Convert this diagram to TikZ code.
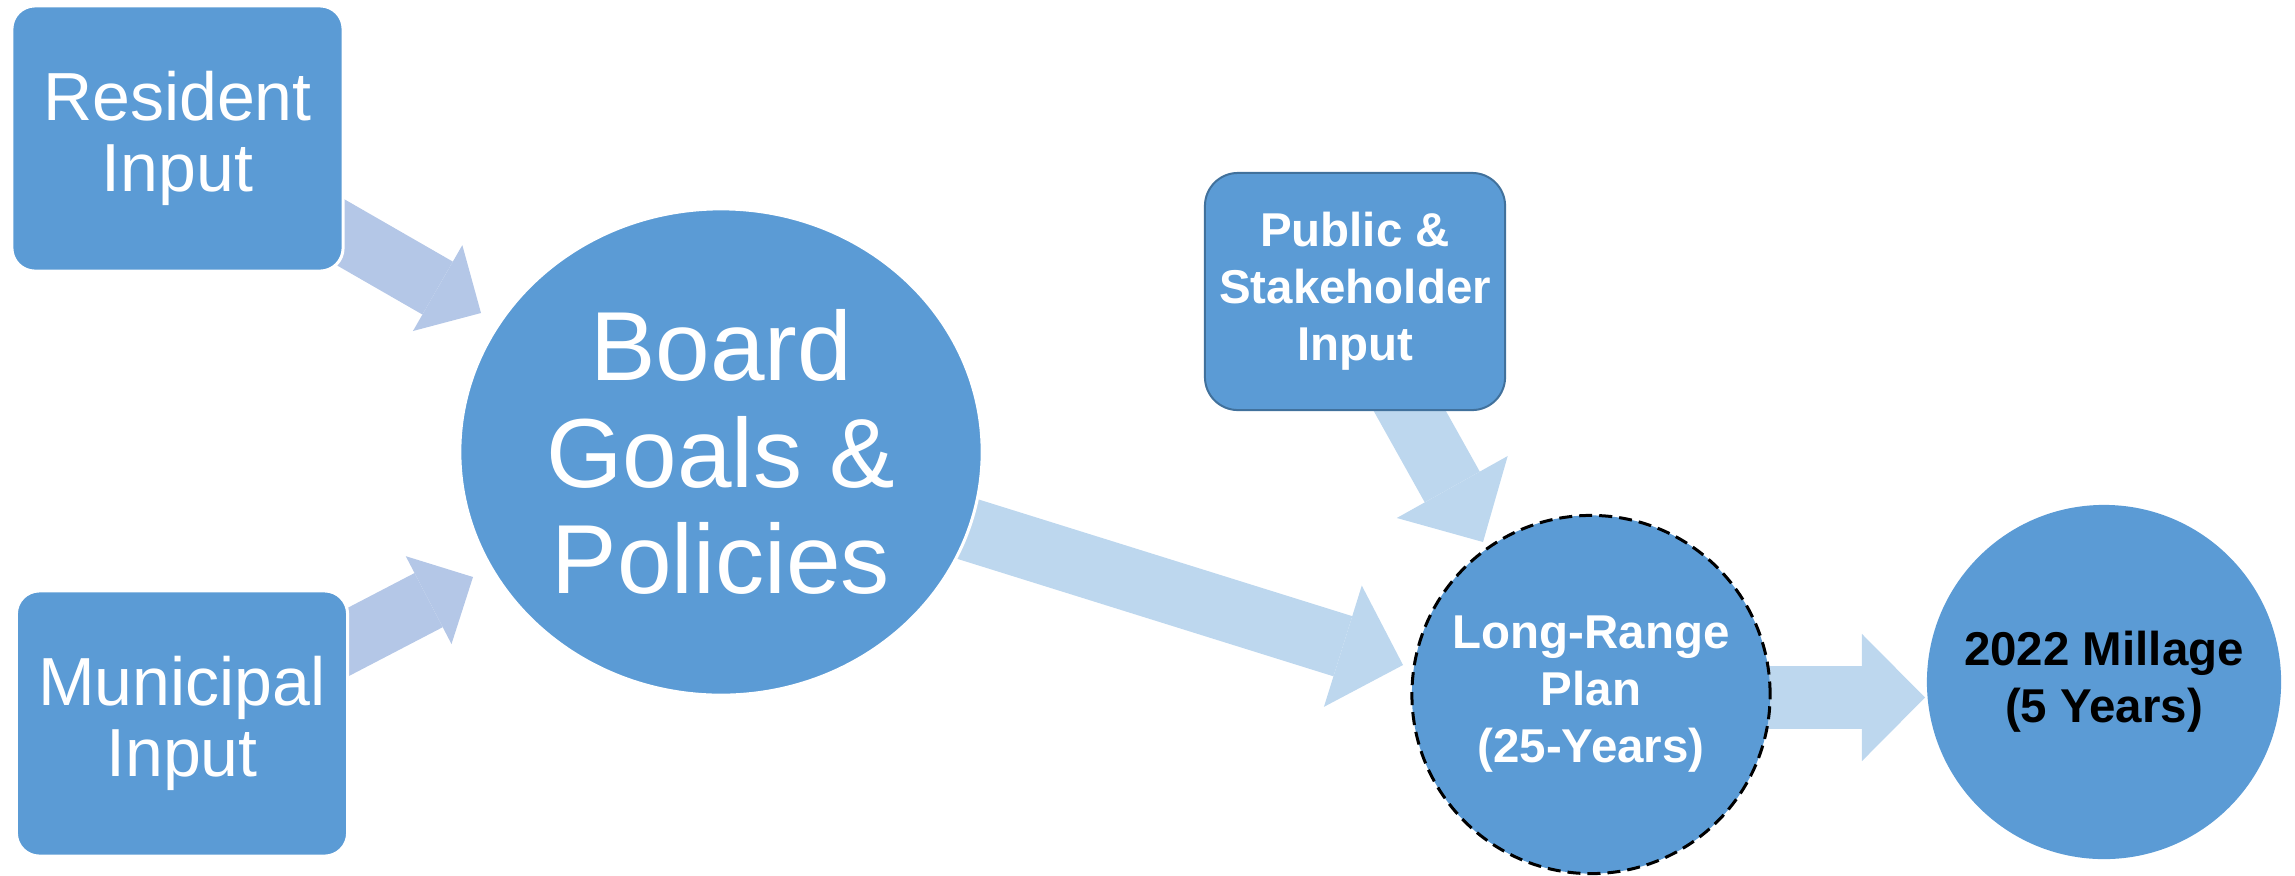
\documentclass[tikz,border=0pt]{standalone}
\usepackage{fontspec}
\setmainfont{Liberation Sans}
\usetikzlibrary{arrows.meta,shapes.geometric}
\pgfdeclarelayer{bg}
\pgfsetlayers{bg,main}
\definecolor{boxblue}{HTML}{5B9BD5}
\definecolor{arrL}{HTML}{B4C7E7}
\definecolor{arrR}{HTML}{BDD7EE}
\definecolor{pubborder}{HTML}{41719C}
\tikzset{
  inbox/.style={rectangle, rounded corners=0.23cm, fill=boxblue, draw=white,
    line width=0.03cm, minimum width=3.31cm, minimum height=2.65cm, inner sep=0pt,
    align=center, text=white, font=\fontsize{19.35}{20.2}\selectfont},
  pubbox/.style={rectangle, rounded corners=0.33cm, fill=boxblue, draw=pubborder,
    line width=0.02cm, minimum width=3.0cm, minimum height=2.37cm, inner sep=0pt,
    align=center, text=white, font=\bfseries\fontsize{13.5}{16.2}\selectfont},
  bigell/.style={ellipse, fill=boxblue, draw=white, line width=0.03cm,
    minimum width=5.22cm, minimum height=4.86cm, inner sep=0pt, align=center,
    text=white, font=\fontsize{27.9}{30.2}\selectfont},
  lrcirc/.style={circle, fill=boxblue, draw=black, dash pattern=on 0.13cm off 0.07cm,
    line width=0.03cm, minimum size=3.58cm, inner sep=0pt, align=center,
    text=white, font=\bfseries\fontsize{13.5}{16.2}\selectfont},
  milcirc/.style={circle, fill=boxblue, minimum size=3.54cm, inner sep=0pt,
    align=center, text=black, font=\bfseries\fontsize{13.5}{16.2}\selectfont},
  fatL/.style={draw=arrL, line width=0.61cm,
    -{Triangle[width=0.99cm,length=0.50cm,line width=0pt]}},
  fatR/.style={draw=arrR, line width=0.63cm,
    -{Triangle[width=1.27cm,length=0.63cm,line width=0pt]}}
}
\begin{document}
\begin{tikzpicture}[x=0.01cm,y=-0.01cm]
\useasboundingbox (0,0) rectangle (2295,875);
\node[inbox] (res) at (177.5,138.5) {Resident\\Input};
\node[inbox] (mun) at (182,723.5) {Municipal\\Input};
\node[bigell] (board) at (721,452) {Board\\Goals \&\\Policies};
\node[pubbox] (pub) at (1355,291.5) {Public \&\\Stakeholder\\Input};
\node[lrcirc] (lr) at (1591,694.5) {Long-Range\\Plan\\(25-Years)};
\node[milcirc] (mil) at (2104,682) {2022 Millage\\(5 Years)};
\coordinate (t1) at (481,313);
\coordinate (t2) at (473,577);
\coordinate (t3) at (1403,665);
\coordinate (t4) at (1483,542);
\coordinate (t5) at (1925,697.5);
\begin{pgfonlayer}{bg}
\draw[fatL] (res.center) -- (t1);
\draw[fatL] ([yshift=-0.05cm]mun.center) -- (t2);
\draw[fatR] (board.center) -- (t3);
\draw[fatR] ([xshift=-0.12cm]pub.center) -- (t4);
\draw[fatR] (lr.center |- t5) -- (t5);
\end{pgfonlayer}
\end{tikzpicture}
\end{document}
